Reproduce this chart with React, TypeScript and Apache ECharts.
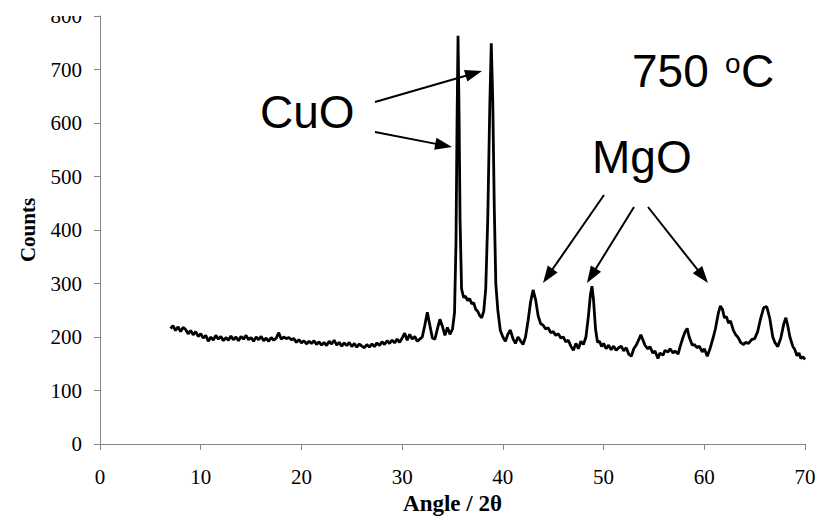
import React, { useEffect, useRef } from "react";
import * as echarts from "echarts";

// Axis settings
const xMin = 0;
const xMax = 70;
const xStep = 10;
const yMin = 0;
const yMax = 800;
const yStep = 100;

// XRD pattern (angle 2θ, counts)
const background1: [number, number][] = [
  [7.0, 216], [7.25, 221], [7.5, 212], [7.75, 219], [8.0, 210], [8.25, 218], [8.5, 214], [8.75, 206],
  [9.0, 212], [9.25, 204], [9.5, 210], [9.75, 201], [10.0, 206], [10.25, 198], [10.5, 203], [10.75, 192],
  [11.0, 200], [11.25, 194], [11.5, 203], [11.75, 196], [12.0, 201], [12.25, 193], [12.5, 199], [12.75, 194],
  [13.0, 202], [13.25, 195], [13.5, 200], [13.75, 193], [14.0, 201], [14.25, 196], [14.5, 203], [14.75, 195],
  [15.0, 199], [15.25, 192], [15.5, 200], [15.75, 195], [16.0, 201], [16.25, 193], [16.5, 198], [16.75, 192],
  [17.0, 199], [17.25, 194], [17.5, 198], [17.75, 208], [18.0, 196], [18.25, 200], [18.5, 197], [18.75, 199],
  [19.0, 195], [19.25, 197], [19.5, 190], [19.75, 195], [20.0, 189], [20.25, 193], [20.5, 187], [20.75, 192],
  [21.0, 188], [21.25, 193], [21.5, 186], [21.75, 191], [22.0, 185], [22.25, 190], [22.5, 184], [22.75, 192],
  [23.0, 187], [23.25, 194], [23.5, 185], [23.75, 190], [24.0, 183], [24.25, 189], [24.5, 184], [24.75, 190],
  [25.0, 182], [25.25, 188], [25.5, 181], [25.75, 187], [26.0, 183], [26.25, 180], [26.5, 186], [26.75, 181],
  [27.0, 187], [27.25, 182], [27.5, 189], [27.75, 184], [28.0, 191], [28.25, 186], [28.5, 193], [28.75, 188],
  [29.0, 194], [29.25, 189], [29.5, 196], [29.75, 190], [30.0, 198], [30.25, 207], [30.5, 194], [30.75, 205],
  [31.0, 196], [31.25, 201], [31.5, 192], [31.75, 196], [32.0, 200], [32.25, 222], [32.5, 246], [32.75, 222],
  [33.0, 198], [33.25, 196], [33.5, 215], [33.75, 233], [34.0, 220], [34.25, 203], [34.5, 218], [34.75, 205],
  [35.0, 215],
];
const cuoRegion: [number, number][] = [
  [35.2, 245], [35.35, 380], [35.45, 600], [35.55, 763], [35.65, 620], [35.75, 420], [35.9, 290],
  [36.1, 274], [36.3, 276], [36.5, 268], [36.7, 272], [36.9, 262], [37.1, 264], [37.3, 252], [37.5, 248],
  [37.7, 240], [37.9, 236], [38.1, 248], [38.3, 290], [38.5, 420], [38.7, 630], [38.85, 749], [39.0, 640],
  [39.15, 440], [39.3, 300], [39.5, 250], [39.75, 212], [40.0, 200], [40.25, 192], [40.5, 205], [40.75, 213],
  [41.0, 197], [41.25, 188], [41.5, 200], [41.75, 193], [42.0, 186],
];
const mgoRegion: [number, number][] = [
  [42.25, 200], [42.5, 230], [42.75, 265], [43.0, 288], [43.25, 270], [43.5, 240], [43.75, 225], [44.0, 222],
  [44.25, 215], [44.5, 217], [44.75, 208], [45.0, 210], [45.25, 203], [45.5, 206], [45.75, 198], [46.0, 200],
  [46.25, 191], [46.5, 194], [46.75, 183], [47.0, 175], [47.25, 188], [47.5, 178], [47.75, 192], [48.0, 186],
  [48.25, 200], [48.5, 240], [48.7, 280], [48.85, 295], [49.0, 270], [49.2, 215], [49.4, 190], [49.6, 192],
  [49.8, 182], [50.0, 188], [50.25, 178], [50.5, 185], [50.75, 176], [51.0, 183], [51.25, 175], [51.5, 180],
  [51.75, 183], [52.0, 174], [52.25, 180], [52.5, 168], [52.75, 164], [53.0, 178], [53.25, 185], [53.5, 195],
  [53.7, 204], [53.9, 195], [54.1, 185], [54.4, 178], [54.6, 182], [54.9, 170], [55.1, 174], [55.4, 160],
  [55.6, 170], [55.9, 166], [56.1, 175], [56.4, 172], [56.6, 178], [56.9, 170], [57.1, 174], [57.4, 168],
  [57.6, 182], [57.9, 200], [58.1, 210], [58.3, 216], [58.5, 200], [58.8, 185], [59.0, 186], [59.3, 180],
  [59.5, 183], [59.8, 172], [60.0, 178], [60.3, 164], [60.6, 180], [60.9, 200], [61.1, 215], [61.4, 245],
  [61.6, 258], [61.8, 252], [62.0, 236], [62.2, 238], [62.4, 226], [62.6, 230], [62.9, 212], [63.1, 205],
  [63.4, 198], [63.6, 190], [63.9, 186], [64.1, 190], [64.4, 188], [64.7, 195], [65.0, 197], [65.3, 210],
  [65.6, 235], [65.9, 255], [66.2, 257], [66.5, 235], [66.8, 200], [67.0, 190], [67.3, 182], [67.6, 198],
  [67.9, 225], [68.1, 236], [68.3, 220], [68.5, 200], [68.8, 182], [69.0, 176], [69.2, 165], [69.4, 170],
  [69.6, 160], [69.8, 163], [70.0, 158],
];

const xName = "Angle / 2θ";
const yName = "Counts";

// Annotation texts
const labelCuO = "CuO";
const labelMgO = "MgO";
const labelTempNum = "750";
const labelTempDeg = "o";
const labelTempUnit = "C";

const SERIF = "Liberation Serif";
const SANS = "Liberation Sans";

function arrow(sx: number, sy: number, tx: number, ty: number) {
  const L = 17;
  const W = 12;
  const dx = tx - sx;
  const dy = ty - sy;
  const len = Math.sqrt(dx * dx + dy * dy);
  const ux = dx / len;
  const uy = dy / len;
  const bx = tx - ux * L;
  const by = ty - uy * L;
  const nx = -uy;
  const ny = ux;
  return [
    {
      type: "line",
      shape: { x1: sx, y1: sy, x2: bx + ux * 2, y2: by + uy * 2 },
      style: { stroke: "#000", lineWidth: 2 },
      silent: true,
    },
    {
      type: "polygon",
      shape: {
        points: [
          [tx, ty],
          [bx + (nx * W) / 2, by + (ny * W) / 2],
          [bx - (nx * W) / 2, by - (ny * W) / 2],
        ],
      },
      style: { fill: "#000" },
      silent: true,
    },
  ];
}

export default function App() {
  const ref = useRef<HTMLDivElement>(null);
  useEffect(() => {
    if (!ref.current) return;
    const chart = echarts.init(ref.current, undefined, { renderer: "svg" });
    const data = [...background1, ...cuoRegion, ...mgoRegion];
    const axisLine = { show: true, lineStyle: { color: "#868686", width: 1 } };
    chart.setOption({
      animation: false,
      grid: { left: 100, right: 18, top: 16, bottom: 84 },
      xAxis: {
        type: "value",
        min: xMin,
        max: xMax,
        interval: xStep,
        name: xName,
        nameLocation: "middle",
        nameGap: 46,
        nameTextStyle: { fontFamily: SERIF, fontWeight: "bold", fontSize: 23, color: "#000" },
        axisLine,
        axisTick: { show: true, length: 6, lineStyle: { color: "#868686" } },
        axisLabel: { fontFamily: "Times New Roman", fontSize: 21, color: "#000", margin: 22 },
        splitLine: { show: false },
      },
      yAxis: {
        type: "value",
        min: yMin,
        max: yMax,
        interval: yStep,
        name: yName,
        nameLocation: "middle",
        nameGap: 62,
        nameRotate: 90,
        nameTextStyle: { fontFamily: SERIF, fontWeight: "bold", fontSize: 21, color: "#000" },
        axisLine,
        axisTick: { show: true, length: 6, lineStyle: { color: "#868686" } },
        axisLabel: { fontFamily: "serif", fontSize: 21, color: "#000", margin: 18 },
        splitLine: { show: false },
      },
      series: [
        {
          type: "line",
          data,
          showSymbol: false,
          symbol: "none",
          smooth: false,
          lineStyle: { color: "#000", width: 2.8 },
        },
      ],
      graphic: [
        {
          type: "rect",
          shape: { x: 0, y: 0, width: 99, height: 16 },
          style: { fill: "#fff" },
          z: 100,
          silent: true,
        },
        {
          type: "text",
          x: 260,
          y: 112,
          style: { text: labelCuO, font: `46px ${SANS}`, fill: "#000", verticalAlign: "middle", align: "left" },
        },
        {
          type: "text",
          x: 592,
          y: 157,
          style: { text: labelMgO, font: `46px ${SANS}`, fill: "#000", verticalAlign: "middle", align: "left" },
        },
        {
          type: "text",
          x: 632,
          y: 71,
          style: { text: labelTempNum, font: `46px ${SANS}`, fill: "#000", verticalAlign: "middle", align: "left" },
        },
        {
          type: "text",
          x: 725,
          y: 63,
          style: { text: labelTempDeg, font: `28px ${SANS}`, fill: "#000", verticalAlign: "middle", align: "left" },
        },
        {
          type: "text",
          x: 741,
          y: 71,
          style: { text: labelTempUnit, font: `46px ${SANS}`, fill: "#000", verticalAlign: "middle", align: "left" },
        },
        ...arrow(375, 102, 482, 71),
        ...arrow(375, 132, 452, 147),
        ...arrow(604, 195, 543, 283),
        ...arrow(634, 207, 587, 283),
        ...arrow(648, 207, 708, 283),
      ],
    });
    return () => chart.dispose();
  }, []);
  return (
    <div
      ref={ref}
      style={{ position: "fixed", left: 0, top: 0, width: 823, height: 528, background: "#fff" }}
    />
  );
}
